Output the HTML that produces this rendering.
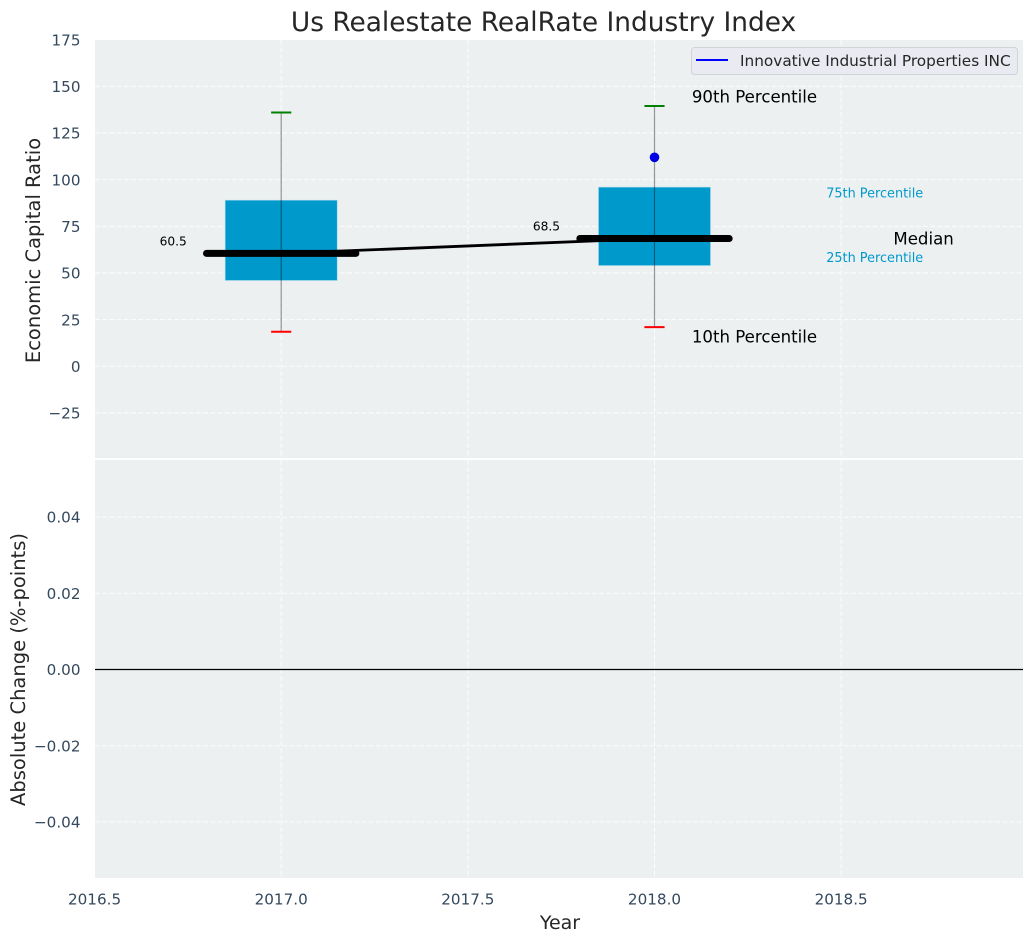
<!DOCTYPE html>
<html lang="en">
<head>
<meta charset="utf-8">
<title>Us Realestate RealRate Industry Index</title>
<style>
html,body{margin:0;padding:0;background:#fff;}
svg{display:block;}
text{font-family:"DejaVu Sans","Liberation Sans",sans-serif;}
</style>
</head>
<body>
<svg id="chart" xmlns="http://www.w3.org/2000/svg" width="1034" height="942" viewBox="0 0 1034 942"></svg>
<script>
const years = [2017, 2018];
const p10 = [18.5, 21];
const p25 = [46, 54];
const medians = [60.5, 68.5];
const p75 = [89, 96];
const p90 = [136, 139.5];
const companyYears = [2018];
const companyValues = [112];
const topTicks = [-25, 0, 25, 50, 75, 100, 125, 150, 175];
const bottomTicks = [-0.04, -0.02, 0, 0.02, 0.04];
const xTicks = [2016.5, 2017, 2017.5, 2018, 2018.5];
const medianLabels = ['60.5', '68.5'];

const svg = document.getElementById('chart');
const NS = 'http://www.w3.org/2000/svg';
const left = 95, right = 1023, topA = 40, topB = 458, botA = 460, botB = 878;
const sx = v => 281.2 + (v - 2017) * 373.3;
const sy = v => 366.3 - v * 1.866;
const sb = v => 669.5 - v * 3810;
const fmt = v => (v < 0 ? '\u2212' : '') + Math.abs(v);

function mk(tag, attrs, text) {
  const el = document.createElementNS(NS, tag);
  for (const k in attrs) el.setAttribute(k, attrs[k]);
  if (text !== undefined) el.textContent = text;
  svg.appendChild(el);
  return el;
}

let el;
el = mk('rect', {x: left, y: topA, width: right - left, height: topB - topA, fill: '#ecf0f1'});


el = mk('rect', {x: left, y: botA, width: right - left, height: botB - botA, fill: '#ecf0f1'});



const gridStyle = {stroke: '#fff', 'stroke-width': 1, 'stroke-dasharray': '5 2.2', 'stroke-opacity': 0.85};
xTicks.forEach(t => {
  if (t > 2016.6) {
    el = mk('line', Object.assign({x1: sx(t), x2: sx(t), y1: topA, y2: topB}, gridStyle));
    
    
    el = mk('line', Object.assign({x1: sx(t), x2: sx(t), y1: botA, y2: botB}, gridStyle));
    
    
  }
  el = mk('text', {x: sx(t), y: 904.5, 'text-anchor': 'middle', 'font-size': 15.2, fill: '#34495e'}, t.toFixed(1));
  
  
});
topTicks.forEach(t => {
  if (t < 175) {
    el = mk('line', Object.assign({x1: left, x2: right, y1: sy(t), y2: sy(t)}, gridStyle));
    
    
  }
  el = mk('text', {x: 80.5, y: sy(t) + 5.6, 'text-anchor': 'end', 'font-size': 15.2, fill: '#34495e'}, fmt(t));
  
  
});
bottomTicks.forEach(t => {
  el = mk('line', Object.assign({x1: left, x2: right, y1: sb(t), y2: sb(t)}, gridStyle));
  
  
  el = mk('text', {x: 80.5, y: sb(t) + 5.6, 'text-anchor': 'end', 'font-size': 15.2, fill: '#34495e'}, (t < 0 ? '\u2212' : '') + Math.abs(t).toFixed(2));
  
  
});
el = mk('line', {x1: left, x2: right, y1: sb(0), y2: sb(0), stroke: '#000', 'stroke-width': 1.3});



years.forEach((y, i) => {
  el = mk('rect', {x: sx(y - 0.15), y: sy(p75[i]), width: sx(y + 0.15) - sx(y - 0.15), height: sy(p25[i]) - sy(p75[i]), fill: '#0099cc', stroke: '#9fd6ea', 'stroke-width': 0.6});
  
  
});

el = mk('polyline', {points: years.map((y, i) => sx(y) + ',' + sy(medians[i])).join(' '), fill: 'none', stroke: '#000', 'stroke-width': 2.8});



years.forEach((y, i) => {
  el = mk('line', {x1: sx(y - 0.2), x2: sx(y + 0.2), y1: sy(medians[i]), y2: sy(medians[i]), stroke: '#000', 'stroke-width': 7, 'stroke-linecap': 'round'});
  
  
  el = mk('line', {x1: sx(y), x2: sx(y), y1: sy(p90[i]), y2: sy(p10[i]), stroke: '#000', 'stroke-opacity': 0.4, 'stroke-width': 1.2});
  
  
  el = mk('line', {x1: sx(y - 0.027), x2: sx(y + 0.027), y1: sy(p90[i]), y2: sy(p90[i]), stroke: '#008000', 'stroke-width': 2});
  
  
  el = mk('line', {x1: sx(y - 0.027), x2: sx(y + 0.027), y1: sy(p10[i]), y2: sy(p10[i]), stroke: '#ff0000', 'stroke-width': 2});
  
  
  el = mk('text', {x: sx(y) - 108, y: sy(medians[i]) - 8, 'text-anchor': 'middle', 'font-size': 12.2, fill: '#000'}, medianLabels[i]);
  
  
});

companyYears.forEach((y, i) => {
  el = mk('circle', {cx: sx(y), cy: sy(companyValues[i]), r: 4.8, fill: '#0000e6'});
  
  
});

const lastP90 = p90[p90.length - 1], lastP10 = p10[p10.length - 1], lastP75 = p75[p75.length - 1], lastP25 = p25[p25.length - 1], lastMed = medians[medians.length - 1];
const lastYear = years[years.length - 1];
el = mk('text', {x: sx(lastYear + 0.1), y: sy(lastP90) - 3.5, 'font-size': 16.6, fill: '#000'}, '90th Percentile');


el = mk('text', {x: sx(lastYear + 0.1), y: sy(lastP10) + 15.5, 'font-size': 16.6, fill: '#000'}, '10th Percentile');


el = mk('text', {x: sx(lastYear + 0.46), y: sy(lastP75) + 10.5, 'font-size': 12.85, fill: '#0099cc'}, '75th Percentile');


el = mk('text', {x: sx(lastYear + 0.46), y: sy(lastP25) - 3.5, 'font-size': 12.85, fill: '#0099cc'}, '25th Percentile');


el = mk('text', {x: sx(lastYear + 0.64), y: sy(lastMed) + 6, 'font-size': 16.6, fill: '#000'}, 'Median');



el = mk('rect', {x: 691.5, y: 47.5, width: 326, height: 27, rx: 3, fill: '#eaeaf2', stroke: '#d0d3d8', 'stroke-width': 1});


el = mk('line', {x1: 696, x2: 728, y1: 60, y2: 60, stroke: '#0000ff', 'stroke-width': 2});


el = mk('text', {x: 740, y: 66, 'font-size': 15.3, fill: '#262626'}, 'Innovative Industrial Properties INC');



el = mk('text', {x: 543.5, y: 31, 'text-anchor': 'middle', 'font-size': 26.4, fill: '#262626'}, 'Us Realestate RealRate Industry Index');


el = mk('text', {x: 560, y: 929, 'text-anchor': 'middle', 'font-size': 19, fill: '#262626'}, 'Year');


el = mk('text', {transform: 'translate(40 250.5) rotate(-90)', 'text-anchor': 'middle', 'font-size': 19.5, fill: '#262626'}, 'Economic Capital Ratio');


el = mk('text', {transform: 'translate(25 669.5) rotate(-90)', 'text-anchor': 'middle', 'font-size': 19.5, fill: '#262626'}, 'Absolute Change (%-points)');


</script>
</body>
</html>
